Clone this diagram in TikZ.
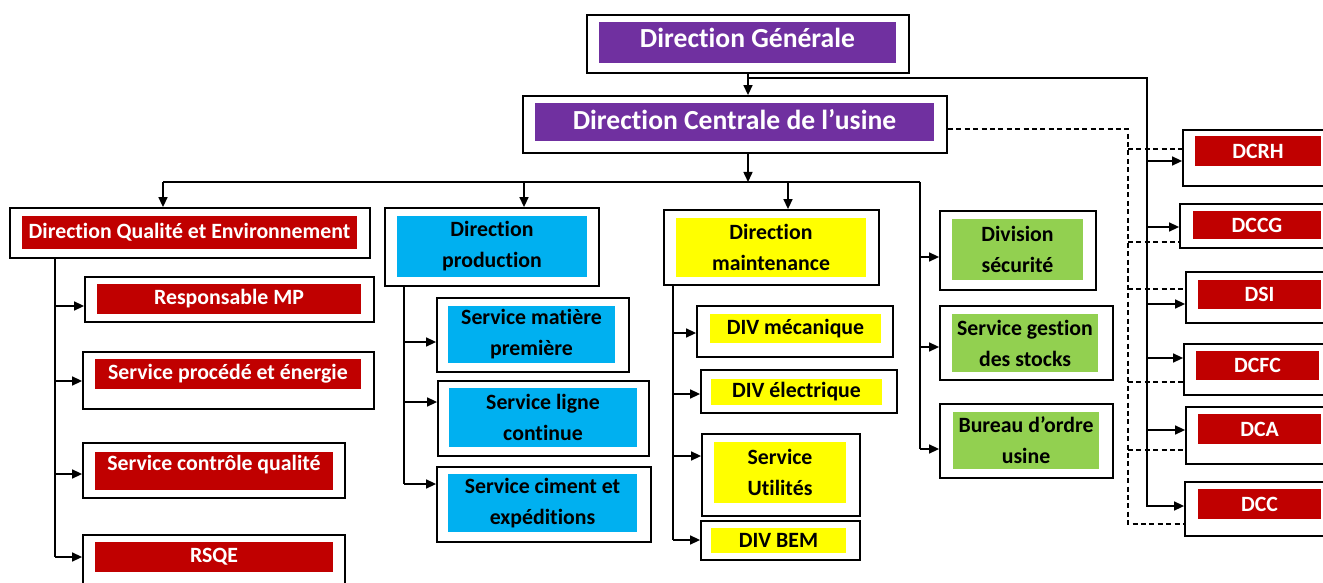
\documentclass[tikz,border=0pt]{standalone}
\usepackage{fontspec}
\setmainfont{Carlito}[Ligatures=NoCommon]
\usepackage{tikz}
\usetikzlibrary{arrows.meta}
\definecolor{cpurple}{HTML}{7030A0}
\definecolor{cred}{HTML}{C00000}
\definecolor{ccyan}{HTML}{00B0F0}
\definecolor{cyellow}{HTML}{FFFF00}
\definecolor{cgreen}{HTML}{92D050}
\tikzset{
  spot/.style args={#1/#2/#3/#4}{anchor=center,at={({(#1+#3)/2},{(#2+#4)/2})},
    minimum width={(#3-#1)*0.5pt},minimum height={(#4-#2)*0.5pt}},
  outbox/.style={draw,line width=0.9pt,inner sep=0pt,fill=white},
  inbox/.style={inner sep=0pt,align=center,font=\bfseries\fontsize{10.9}{15.5}\selectfont},
  bigbox/.style={inbox,fill=cpurple,text=white,font=\bfseries\fontsize{13.8}{16}\selectfont},
  redbox/.style={inbox,fill=cred,text=white},
  bluebox/.style={inbox,fill=ccyan},
  yelbox/.style={inbox,fill=cyellow},
  grnbox/.style={inbox,fill=cgreen},
  conn/.style={line width=0.75pt},
  arr/.style={conn,-{Triangle[length=5pt,width=4.5pt]}},
  dashln/.style={line width=0.6pt,dash pattern=on 2.5pt off 1.7pt}
}

\begin{document}
\begin{tikzpicture}[x=0.5pt,y=-0.5pt]
\useasboundingbox (0,0) rectangle (1323,583);
\clip (0,0) rectangle (1323,583);
% top
\node[outbox,spot=587/15/909/73] (dg) {};
\node[bigbox,text depth=5pt,spot=599/22/896/63] (dg-in) {Direction Générale};
\node[outbox,spot=523/96/947/153] (dcu) {};
\node[bigbox,text depth=3pt,spot=535/103/934/141] (dcu-in) {Direction Centrale de l’usine};
% qualite
\node[outbox,spot=10/208/370/258] (dqe) {};
\node[redbox,spot=22/216/357/249] (dqe-in) {Direction Qualité et Environnement};
\node[outbox,spot=85/277/374/322] (rmp) {};
\node[redbox,spot=97/284/361/314] (rmp-in) {Responsable MP};
\node[outbox,spot=83/352/374/409] (spe) {};
\node[redbox,spot=95/359/361/389] (spe-in) {Service procédé et énergie};
\node[outbox,spot=83/443/345/498] (scq) {};
\node[redbox,text depth=8pt,spot=95/452/333/490] (scq-in) {Service contrôle qualité};
\node[outbox,spot=83/535/345/600] (rsqe) {};
\node[redbox,spot=95/542/333/572] (rsqe-in) {RSQE};
% production
\node[outbox,spot=385/208/599/286] (dp) {};
\node[bluebox,spot=397/216/587/277] (dp-in) {Direction\\production};
\node[outbox,spot=437/298/629/372] (smp) {};
\node[bluebox,spot=448/306/615/363] (smp-in) {Service matière\\première};
\node[outbox,spot=438/381/649/456] (slc) {};
\node[bluebox,spot=449/388/637/447] (slc-in) {Service ligne\\continue};
\node[outbox,spot=437/467/651/542] (sce) {};
\node[bluebox,spot=448/474/637/532] (sce-in) {Service ciment et\\expéditions};
% maintenance
\node[outbox,spot=664/210/879/285] (dm) {};
\node[yelbox,spot=676/218/866/277] (dm-in) {Direction\\maintenance};
\node[outbox,spot=697/306/893/357] (divm) {};
\node[yelbox,spot=710/314/881/343] (divm-in) {DIV mécanique};
\node[outbox,spot=701/370/897/413] (dive) {};
\node[yelbox,spot=711/379/882/405] (dive-in) {DIV électrique};
\node[outbox,spot=702/434/860/516] (su) {};
\node[yelbox,spot=714/442/846/503] (su-in) {Service\\Utilités};
\node[outbox,spot=701/521/860/560] (bem) {};
\node[yelbox,spot=711/528/846/553] (bem-in) {DIV BEM};
% securite / stocks
\node[outbox,spot=940/211/1096/290] (dsec) {};
\node[grnbox,spot=952/219/1083/280] (dsec-in) {Division\\sécurité};
\node[outbox,spot=940/306/1113/380] (sgs) {};
\node[grnbox,spot=952/314/1098/372] (sgs-in) {Service gestion\\des stocks};
\node[outbox,spot=940/404/1113/478] (bou) {};
\node[grnbox,spot=953/412/1099/469] (bou-in) {Bureau d’ordre\\usine};
% directions centrales
\node[outbox,spot=1183/130/1340/186] (dcrh) {};
\node[redbox,spot=1195/136/1321/166] (dcrh-in) {DCRH};
\node[outbox,spot=1180/204/1340/248] (dccg) {};
\node[redbox,spot=1193/211/1321/239] (dccg-in) {DCCG};
\node[outbox,spot=1186/272/1340/323] (dsi) {};
\node[redbox,spot=1198/280/1321/309] (dsi-in) {DSI};
\node[outbox,spot=1184/344/1340/395] (dcfc) {};
\node[redbox,spot=1196/351/1319/380] (dcfc-in) {DCFC};
\node[outbox,spot=1186/407/1340/464] (dca) {};
\node[redbox,spot=1198/414/1321/444] (dca-in) {DCA};
\node[outbox,spot=1185/482/1340/536] (dcc) {};
\node[redbox,spot=1198/489/1321/519] (dcc-in) {DCC};
% liaisons
\draw[arr] (dg.south) -- (dg.south |- dcu.north);
\coordinate (rtop) at (1147,78); \coordinate (rbot) at (1147,507);
\draw[conn] (dg.south |- rtop) -- (rtop) -- (rbot);
\foreach \n/\y in {dcrh/161,dccg/227,dsi/304,dcfc/358,dca/430,dcc/506}
  \draw[arr] (rbot |- 0,\y) -- (\n.west |- 0,\y);
\coordinate (dtop) at (1128,129); \coordinate (dbot) at (1128,524);
\draw[dashln] (dcu.east |- dtop) -- (dtop) -- (dbot) -- (dcc.west |- dbot);
\foreach \n/\y in {dcrh/149,dccg/242,dsi/289,dcfc/382,dca/450}
  \draw[dashln] (dtop |- 0,\y) -- (\n.west |- 0,\y);
\coordinate (bus) at (748,182);
\draw[arr] (dcu.south -| bus) -- (bus);
\coordinate (busl) at (163,182); \coordinate (busr) at (920,182);
\coordinate (bp) at (524,182); \coordinate (bm) at (788,182);
\draw[conn] (busl) -- (busr);
\draw[arr] (busl) -- (busl |- dqe.north);
\draw[arr] (bp) -- (bp |- dp.north);
\draw[arr] (bm) -- (bm |- dm.north);
\coordinate (gbot) at (920,449);
\draw[conn] (busr) -- (gbot);
\foreach \n/\y in {dsec/257,sgs/347,bou/449}
  \draw[arr] (gbot |- 0,\y) -- (\n.west |- 0,\y);
\coordinate (qv) at (55,557);
\draw[conn] (qv |- dqe.south) -- (qv);
\foreach \n/\y in {rmp/306,spe/381,scq/474,rsqe/557}
  \draw[arr] (qv |- 0,\y) -- (\n.west |- 0,\y);
\coordinate (pv) at (404,484);
\draw[conn] (pv |- dp.south) -- (pv);
\foreach \n/\y in {smp/342,slc/402,sce/484}
  \draw[arr] (pv |- 0,\y) -- (\n.west |- 0,\y);
\coordinate (mv) at (673,540);
\draw[conn] (mv |- dm.south) -- (mv);
\foreach \n/\y in {divm/333,dive/394,su/456,bem/540}
  \draw[arr] (mv |- 0,\y) -- (\n.west |- 0,\y);
\end{tikzpicture}
\end{document}
